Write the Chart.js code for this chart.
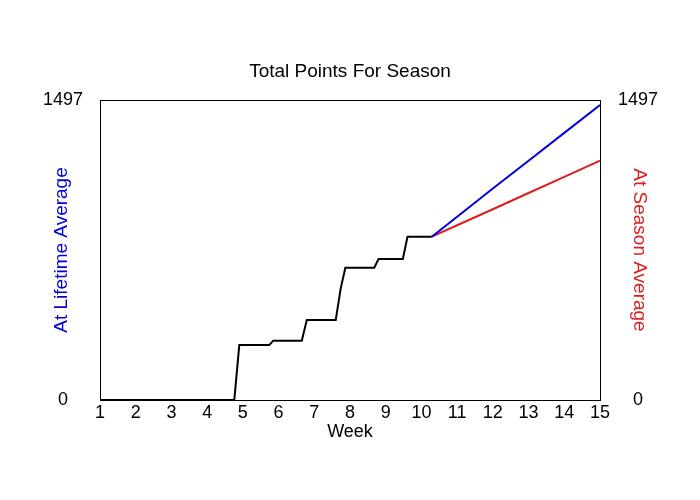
<!DOCTYPE html>
<html>
<head>
<meta charset="utf-8">
<script src="https://cdn.jsdelivr.net/npm/chart.js@4"></script>
<style>
  body { margin: 0; background: #fff; }
</style>
</head>
<body>
<canvas id="seasonChart" width="700" height="500"></canvas>
<script>
// points so far this season, by week (fractional = day within week)
const actualWeeks  = [1, 4.76, 4.90, 5.74, 5.85, 6.65, 6.79, 7.60, 7.74, 7.87, 8.68, 8.80, 9.48, 9.61, 10.29];
const actualPoints = [0, 0, 274, 274, 296, 296, 399, 399, 557, 660, 660, 704, 704, 815, 815];

// projections from now to the end of the season
const projWeeks     = [10.29, 11, 12, 13, 14, 15];
const lifetimeProj  = [815, 914, 1055, 1194, 1333, 1472];
const seasonProj    = [815, 872, 952, 1033, 1113, 1194];

const yTicks = [0, 1497];

function pairs(xs, ys) {
  return xs.map((x, i) => ({ x: x, y: ys[i] }));
}

// box round the plot + the two side titles (they sit in the tick label column)
const framePlugin = {
  id: 'frame',
  afterDraw(chart) {
    const c = chart.ctx;
    const a = chart.chartArea;
    const midY = (a.top + a.bottom) / 2;
    c.save();
    c.strokeStyle = '#000';
    c.lineWidth = 1;
    c.strokeRect(a.left + 0.5, a.top + 0.5, a.right - a.left, a.bottom - a.top);
    c.font = '19px "Liberation Sans", Arial, sans-serif';
    c.textAlign = 'center';
    c.textBaseline = 'middle';
    c.fillStyle = 'rgb(0,0,220)';
    c.translate(62, midY);
    c.rotate(-Math.PI / 2);
    c.fillText('At Lifetime Average', 0, 0);
    c.restore();
    c.save();
    c.font = '19px "Liberation Sans", Arial, sans-serif';
    c.textAlign = 'center';
    c.textBaseline = 'middle';
    c.fillStyle = 'rgb(220,30,30)';
    c.translate(639, midY);
    c.rotate(Math.PI / 2);
    c.fillText('At Season Average', 0, 0);
    c.restore();
  }
};

Chart.defaults.font.family = '"Liberation Sans", Arial, sans-serif';
Chart.defaults.color = '#000';

new Chart(document.getElementById('seasonChart'), {
  type: 'line',
  data: {
    datasets: [
      {
        label: 'Lifetime',
        data: pairs(projWeeks, lifetimeProj),
        borderColor: 'rgb(0,0,220)',
        borderWidth: 2,
        pointRadius: 0,
        yAxisID: 'y'
      },
      {
        label: 'Season',
        data: pairs(projWeeks, seasonProj),
        borderColor: 'rgb(220,30,30)',
        borderWidth: 2,
        pointRadius: 0,
        yAxisID: 'y2'
      },
      {
        label: 'Actual',
        data: pairs(actualWeeks, actualPoints),
        borderColor: '#000',
        borderWidth: 2,
        pointRadius: 0,
        yAxisID: 'y'
      }
    ]
  },
  options: {
    responsive: false,
    animation: false,
    layout: { padding: { bottom: 57 } },
    plugins: {
      legend: { display: false },
      tooltip: { enabled: false },
      title: {
        display: true,
        text: 'Total Points For Season',
        font: { size: 19, weight: 'normal' },
        padding: { top: 60.6, bottom: 16.6 }
      }
    },
    scales: {
      x: {
        type: 'linear',
        min: 1,
        max: 15,
        grid: { display: false, drawTicks: false },
        border: { display: false },
        ticks: { stepSize: 1, font: { size: 18 }, padding: 2, maxRotation: 0 },
        title: { display: true, text: 'Week', font: { size: 18 }, padding: 0 },
        afterFit(scale) { scale.height = 43; }
      },
      y: {
        position: 'left',
        min: 0,
        max: 1497,
        grid: { display: false, drawTicks: false },
        border: { display: false },
        ticks: { font: { size: 18 }, padding: 17, crossAlign: 'center', callback: v => String(v) },
        afterBuildTicks(scale) { scale.ticks = yTicks.map(v => ({ value: v })); },
        afterFit(scale) { scale.width = 100; }
      },
      y2: {
        position: 'right',
        min: 0,
        max: 1497,
        grid: { display: false, drawTicks: false },
        border: { display: false },
        ticks: { font: { size: 18 }, padding: 18, crossAlign: 'center', callback: v => String(v) },
        afterBuildTicks(scale) { scale.ticks = yTicks.map(v => ({ value: v })); },
        afterFit(scale) { scale.width = 100; }
      }
    }
  },
  plugins: [framePlugin]
});
</script>
</body>
</html>
